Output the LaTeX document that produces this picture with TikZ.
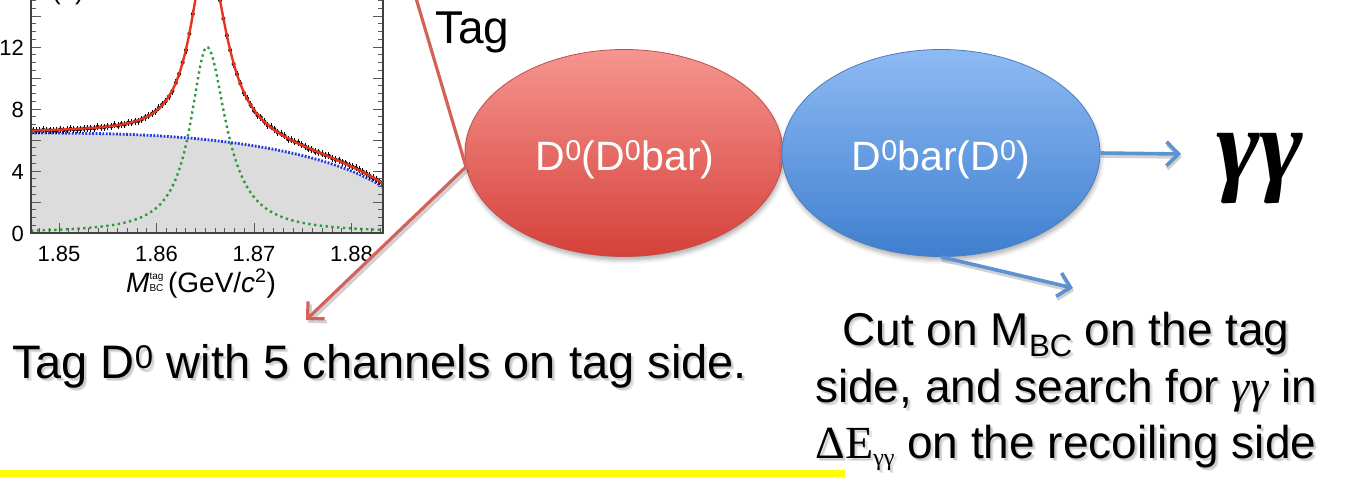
\documentclass[tikz,border=0pt]{standalone}
\usepackage{fontspec}
\setmainfont{Liberation Sans}
\newfontfamily\serifgk{Liberation Serif}
\usetikzlibrary{shapes.geometric,arrows.meta,calc,shadows.blur}

\definecolor{redtop}{HTML}{F6958F}
\definecolor{redbot}{HTML}{D5413A}
\definecolor{rededge}{HTML}{C0504D}
\definecolor{bluetop}{HTML}{8EBAF4}
\definecolor{bluebot}{HTML}{3F7FCF}
\definecolor{blueedge}{HTML}{4A7EBB}
\definecolor{redline}{HTML}{D3625B}
\definecolor{blueline}{HTML}{5A92D2}
\definecolor{bkgfill}{HTML}{DCDCDC}
\definecolor{bkgblue}{HTML}{2238E0}
\definecolor{fitred}{HTML}{E5341F}
\definecolor{siggreen}{HTML}{2F9A3C}
\definecolor{hiyellow}{HTML}{FFFF00}

\newcommand\capsize{\fontsize{46}{56}\selectfont}
\newcommand\subBC[1]{\raisebox{-11pt}{\fontsize{31}{31}\selectfont #1}}
% a caption with a soft drop shadow underneath
\newcommand\shadowedtext[4]{%
  \foreach \sx/\sy [count=\sn] in {1.5/2.5,3/3.5}{%
    \node[#2,tshadow] (#1-sh\sn) at ($(#3)+(\sx,\sy)$) {#4};}%
  \node[#2] (#1) at (#3) {#4};}

\tikzset{
  ovalnode/.style={ellipse, minimum width=318pt, minimum height=207pt,
    inner sep=0pt, line width=0.8pt,
    blur shadow={shadow xshift=1pt, shadow yshift=-4pt,
      shadow blur radius=4pt, shadow opacity=30}},
  redoval/.style={ovalnode, top color=redtop, bottom color=redbot, draw=rededge},
  blueoval/.style={ovalnode, top color=bluetop, bottom color=bluebot, draw=blueedge},
  ovaltext/.style={font=\fontsize{41}{48}\selectfont, text=white,
    inner sep=0pt, anchor=base},
  captext/.style={font=\capsize, inner sep=0pt, anchor=base},
  tshadow/.style={text=black, text opacity=0.11},
  redconn/.style={draw=redline, line width=3.2pt},
  blueconn/.style={draw=blueline, line width=3.6pt},
  connshadow/.style={draw=black, draw opacity=0.18, line width=3.6pt},
  barbtip/.style={-{Straight Barb[length=12pt,width=24pt]}},
  frameline/.style={draw=black!75, line width=1.2pt},
  tickmark/.style={draw=black!65, line width=0.9pt},
  ticklab/.style={font=\fontsize{22}{24}\selectfont, inner sep=0pt},
  bkgcurve/.style={draw=bkgblue, line width=2.8pt, dash pattern=on 1.8pt off 1.6pt},
  sigcurve/.style={draw=siggreen, line width=2.4pt, dash pattern=on 2.4pt off 3.4pt},
  totcurve/.style={draw=fitred, line width=2.4pt},
}

\begin{document}
\begin{tikzpicture}[x=1pt, y=-1pt,
  declare function={
    bkg(\t)=6.45*sqrt(1-exp(2.6*ln(max((\t-31)/386,0.001))));
    sig(\t)=12/(1+((\t-207)/ifthenelse(\t<207,20,23))^2);
  }]
\useasboundingbox (0,0) rectangle (1347,477);
\clip (0,0) rectangle (1347,477);

% ---------- fit plot of the tag-side beam-constrained mass ----------
\begin{scope}
  \clip (31,-20) rectangle (383,233);
  \fill[bkgfill] (31,233) -- plot[domain=31:383,samples=120] (\x,{233-15.5*bkg(\x)}) -- (383,233) -- cycle;
  \draw[sigcurve] plot[domain=31:383,samples=240] (\x,{233-15.5*sig(\x)});
  \draw[bkgcurve] plot[domain=31:383,samples=120] (\x,{233-15.5*bkg(\x)});
  \pgfmathsetseed{7}
  \foreach \i in {0,...,103}{
    \pgfmathsetmacro\px{33+3.4*\i}
    \pgfmathsetmacro\py{233-15.5*(bkg(\px)+sig(\px))+0.9*rand}
    \fill[black] (\px,\py) circle (2);
    \draw[black, line width=0.8pt] (\px,\py-3.5) -- (\px,\py+3.5);
  }
  \draw[totcurve] plot[domain=31:383,samples=320] (\x,{233-15.5*(bkg(\x)+sig(\x))});
\end{scope}

% axis ticks
\foreach \ty in {233,225.25,...,-10}{
  \draw[tickmark] (31,\ty) -- ++(5,0);
  \draw[tickmark] (383,\ty) -- ++(-5,0);
}
\foreach \ty in {233,202,...,-10}{
  \draw[tickmark] (31,\ty) -- ++(10,0);
  \draw[tickmark] (383,\ty) -- ++(-10,0);
}
\foreach \tx in {39.5,49.25,...,383}{
  \draw[tickmark] (\tx,233) -- ++(0,-5);
}
\foreach \tx in {59,156.5,254,351.5}{
  \draw[tickmark] (\tx,233) -- ++(0,-10);
}
\draw[frameline] (31,-10) -- (31,233) -- (383,233) -- (383,-10);

% tick labels and axis title
\foreach \v/\yy in {12/47,8/109,4/171,0/233}{
  \node[ticklab, anchor=base east] (ylab\v) at (24,\yy+8) {\v};
}
\foreach \m/\xx [count=\k] in {1.85/59,1.86/156.5,1.87/254,1.88/351.5}{
  \node[ticklab, anchor=base] (xlab\k) at (\xx,261) {\m};
}
\node[font=\fontsize{28}{30}\selectfont, inner sep=0pt, anchor=base west] (xtitle) at (126,292)
  {{\itshape M}\rlap{\raisebox{13pt}{\fontsize{10}{10}\selectfont tag}}\raisebox{1pt}{\fontsize{10}{10}\selectfont BC}\,(GeV/{\itshape c}\textsuperscript{2})};
\node[font=\fontsize{26}{28}\selectfont, inner sep=0pt, anchor=base] (panel) at (68,-1) {(b)};

% ---------- decay chain ----------
\node[redoval] (tagD) at (624,153) {};
\node[blueoval] (pairD) at (941,153) {};
\node[ovaltext] (tagDlab) at (625,170) {D\textsuperscript{0}(D\textsuperscript{0}bar)};
\node[ovaltext] (pairDlab) at (941,170) {D\textsuperscript{0}bar(D\textsuperscript{0})};

\node[captext, anchor=base west] (taglab) at (435,43) {Tag};
\node[font=\serifgk\bfseries\itshape\fontsize{105}{110}\selectfont, inner sep=0pt, anchor=base west]
  (gg) at (1216,181) {γγ};

% connectors
\coordinate (tagfeed) at (413,-12);
\coordinate (tagtip) at (306,320);
\coordinate (ggtip) at (1181,154);
\coordinate (cuttip) at (1073,288);

\draw[redconn] (tagfeed) -- (tagD.185);
\draw[connshadow, barbtip] ($(tagD.185)+(2,3)$) -- ($(tagtip)+(2,3)$);
\draw[redconn, barbtip] (tagD.185) -- (tagtip);

\draw[connshadow, barbtip] ($(pairD.east)+(1,3)$) -- ($(ggtip)+(1,3)$);
\draw[blueconn, barbtip] (pairD.east) -- (ggtip);
\draw[connshadow, barbtip] ($(pairD.south)+(1,3)$) -- ($(cuttip)+(1,3)$);
\draw[blueconn, barbtip] (pairD.south) -- (cuttip);

% captions
\shadowedtext{tagcap}{captext,font=\fontsize{47}{56}\selectfont,anchor=base west}{12,378}{Tag D\textsuperscript{0} with 5 channels on tag side.}
\shadowedtext{cut1}{captext}{1066,345}{Cut on M\subBC{BC} on the tag}
\shadowedtext{cut2}{captext}{1066,402}{side, and search for {\serifgk\itshape γγ} in}
\shadowedtext{cut3}{captext}{1066,458}{{\serifgk ΔE}\raisebox{-7pt}{\serifgk\fontsize{24}{24}\selectfont γγ} on the recoiling side}

% highlight bar
\fill[hiyellow] (0,470) rectangle (845,477);
\end{tikzpicture}
\end{document}
